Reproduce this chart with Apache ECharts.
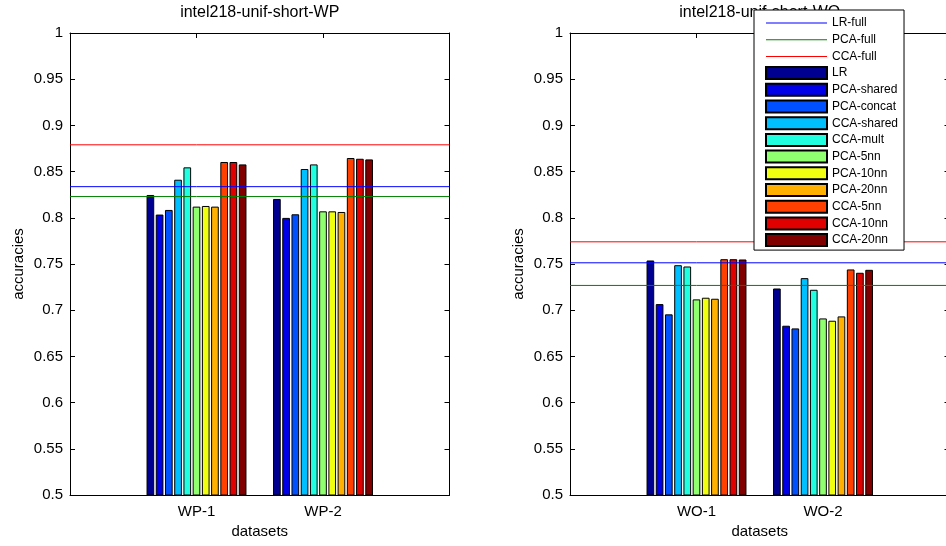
<!DOCTYPE html>
<html>
<head>
<meta charset="utf-8">
<script src="https://cdn.jsdelivr.net/npm/echarts@6/dist/echarts.min.js"></script>
<style>
html,body{margin:0;padding:0;background:#fff;}
#chart{width:946px;height:546px;}
</style>
</head>
<body>
<div id="chart"></div>
<script>
// ---- data ----
const TITLES = ['intel218-unif-short-WP', 'intel218-unif-short-WO'];
const WP_CATEGORIES = ['WP-1', 'WP-2'];
const WO_CATEGORIES = ['WO-1', 'WO-2'];
const METHODS = ['LR', 'PCA-shared', 'PCA-concat', 'CCA-shared', 'CCA-mult', 'PCA-5nn', 'PCA-10nn', 'PCA-20nn', 'CCA-5nn', 'CCA-10nn', 'CCA-20nn'];
const METHOD_COLORS = ['#000090', '#0000E8', '#0050FF', '#00BFFF', '#20FFE0', '#90FF70', '#F0FF10', '#FFB000', '#FF4000', '#E00000', '#800000'];
const WP1 = [0.8247, 0.8035, 0.8085, 0.8412, 0.8546, 0.8121, 0.8128, 0.8121, 0.8604, 0.8604, 0.8578];
const WP2 = [0.8204, 0.7999, 0.8038, 0.8528, 0.8578, 0.8070, 0.8070, 0.8063, 0.8647, 0.8639, 0.8632];
const WO1 = [0.7538, 0.7066, 0.6955, 0.7487, 0.7473, 0.7117, 0.7135, 0.7124, 0.7552, 0.7552, 0.7549];
const WO2 = [0.7235, 0.6832, 0.6803, 0.7347, 0.7221, 0.6911, 0.6886, 0.6933, 0.7441, 0.7405, 0.7437];
const FULL_NAMES = ['LR-full', 'PCA-full', 'CCA-full'];
const FULL_COLORS = ['#0000FF', '#008000', '#FF0000'];
const WP_FULL = [0.8337, 0.8230, 0.8790];
const WO_FULL = [0.7513, 0.7268, 0.7740];
const Y_MIN = 0.5, Y_MAX = 1, Y_STEP = 0.05;
const X_NAME = 'datasets', Y_NAME = 'accuracies';

// ---- layout ----
const FONT = "'Liberation Sans', Arial, Helvetica, sans-serif";
const GRIDS = [
  {left: 70, top: 33, width: 379.5, height: 462},
  {left: 570, top: 33, width: 379.5, height: 462}
];

const panels = [
  {cats: WP_CATEGORIES, groups: [WP1, WP2], full: WP_FULL},
  {cats: WO_CATEGORIES, groups: [WO1, WO2], full: WO_FULL}
];

const xAxis = [], yAxis = [], series = [], title = [];
const tickSel = (i) => i > 0 && i < 3;
const labelFmt = (v) => String(parseFloat(Number(v).toFixed(2)));

panels.forEach((p, gi) => {
  const padded = [''].concat(p.cats, ['']);
  const g = GRIDS[gi];
  title.push({
    text: TITLES[gi], left: g.left + g.width / 2, top: 5, textAlign: 'center', padding: 0, z: 1,
    textStyle: {fontFamily: FONT, fontSize: 16, fontWeight: 'normal', color: '#000'}
  });
  const baseX = xAxis.length;
  xAxis.push({
    type: 'category', gridIndex: gi, data: padded, boundaryGap: false, position: 'bottom',
    name: X_NAME, nameLocation: 'middle', nameGap: 29,
    nameTextStyle: {fontFamily: FONT, fontSize: 15, color: '#000'},
    axisLine: {lineStyle: {color: '#000', width: 1}},
    axisTick: {inside: true, length: 5, interval: tickSel, lineStyle: {color: '#000'}},
    axisLabel: {interval: 0, margin: 9, fontFamily: FONT, fontSize: 15, color: '#000'},
    splitLine: {show: false}
  });
  xAxis.push({
    type: 'category', gridIndex: gi, data: padded, boundaryGap: false, position: 'top',
    axisLine: {lineStyle: {color: '#000', width: 1}},
    axisTick: {inside: true, length: 5, interval: tickSel, lineStyle: {color: '#000'}},
    axisLabel: {show: false}, splitLine: {show: false}
  });
  const baseY = yAxis.length;
  yAxis.push({
    type: 'value', gridIndex: gi, min: Y_MIN, max: Y_MAX, interval: Y_STEP, position: 'left',
    name: Y_NAME, nameLocation: 'middle', nameGap: 44,
    nameTextStyle: {fontFamily: FONT, fontSize: 15, color: '#000'},
    axisLine: {show: true, lineStyle: {color: '#000', width: 1}},
    axisTick: {show: true, inside: true, length: 5, lineStyle: {color: '#000'}},
    axisLabel: {margin: 7, fontFamily: FONT, fontSize: 15, color: '#000', formatter: labelFmt},
    splitLine: {show: false}
  });
  yAxis.push({
    type: 'value', gridIndex: gi, min: Y_MIN, max: Y_MAX, interval: Y_STEP, position: 'right',
    axisLine: {show: true, lineStyle: {color: '#000', width: 1}},
    axisTick: {show: true, inside: true, length: 5, lineStyle: {color: '#000'}},
    axisLabel: {show: false}, splitLine: {show: false}
  });
  METHODS.forEach((m, mi) => {
    series.push({
      type: 'bar', name: m, xAxisIndex: baseX, yAxisIndex: baseY,
      data: [null].concat(p.groups.map(grp => grp[mi]), [null]),
      barCategoryGap: '21%', barGap: '20%',
      itemStyle: {color: METHOD_COLORS[mi], borderColor: '#000', borderWidth: 1},
      z: 2
    });
  });
  FULL_NAMES.forEach((n, fi) => {
    series.push({
      type: 'line', name: n, xAxisIndex: baseX, yAxisIndex: baseY,
      data: padded.map(() => p.full[fi]),
      symbol: 'none', lineStyle: {color: FULL_COLORS[fi], width: 1}, itemStyle: {color: FULL_COLORS[fi]},
      z: 3
    });
  });
});

const LINE_ICON = 'path://M0,0H61V1H0Z';
const legendData = FULL_NAMES.map(n => ({name: n, icon: LINE_ICON}))
  .concat(METHODS.map(n => ({name: n, icon: 'rect'})));

const option = {
  animation: false,
  backgroundColor: '#fff',
  title: title,
  grid: GRIDS.map(g => Object.assign({containLabel: false, outerBoundsMode: 'none', show: false}, g)),
  legend: {
    data: legendData, orient: 'vertical', left: 754, top: 10,
    itemWidth: 61, itemHeight: 12, itemGap: 2.7,
    padding: [6, 6, 3, 11],
    backgroundColor: '#fff', borderColor: '#000', borderWidth: 1,
    textStyle: {fontFamily: FONT, fontSize: 12, lineHeight: 14, color: '#000'},
    selectedMode: false, zlevel: 1, z: 10
  },
  xAxis: xAxis,
  yAxis: yAxis,
  series: series
};

const chart = echarts.init(document.getElementById('chart'), null, {renderer: 'canvas'});
chart.setOption(option);
</script>
</body>
</html>
